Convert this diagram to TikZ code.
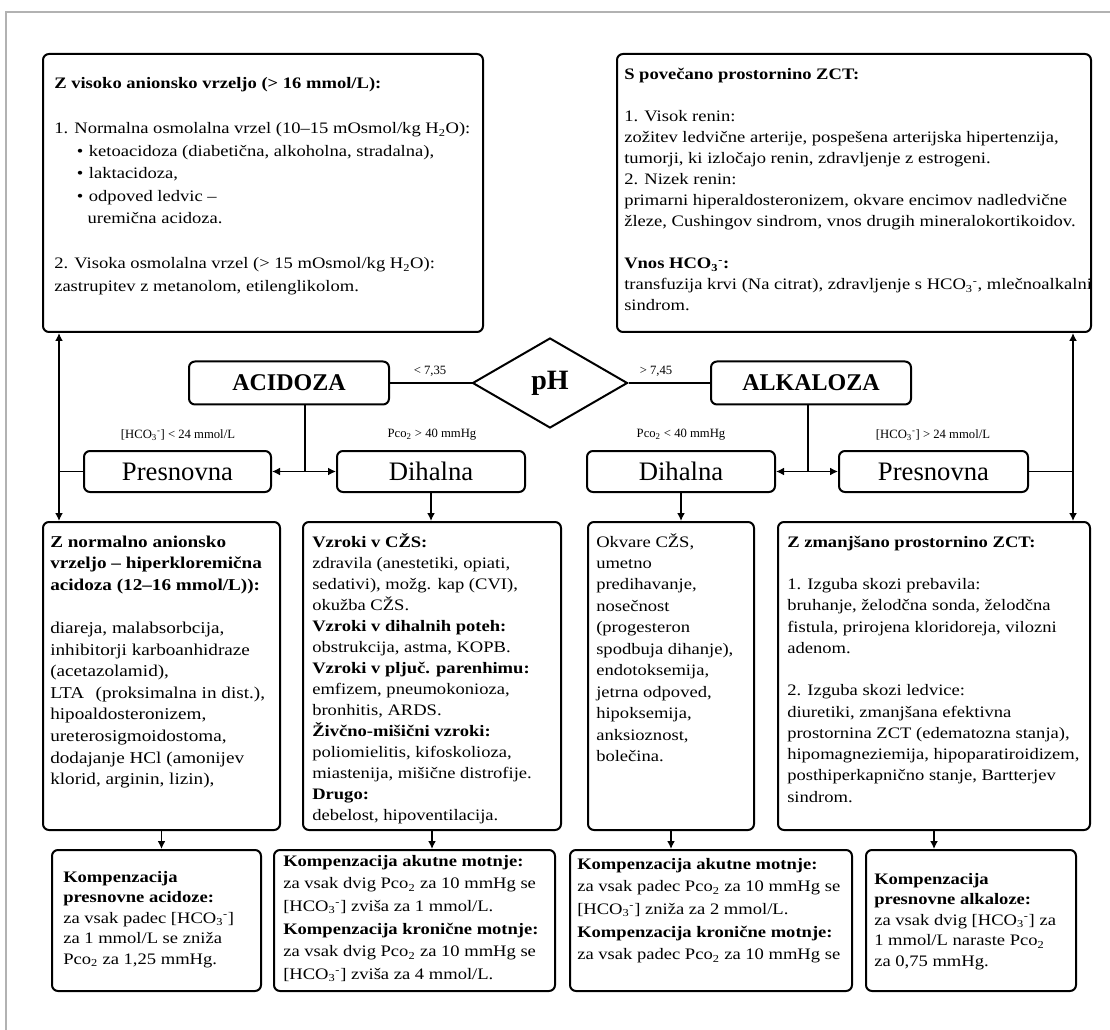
\documentclass[tikz,border=0pt]{standalone}
\usepackage{fontspec}
\setmainfont[FakeStretch=1.16]{Liberation Serif}
\newfontfamily\condfont{Liberation Serif}
\usetikzlibrary{arrows.meta,calc,shapes.geometric}
\newcommand\hco{HCO\textsubscript{3}\textsuperscript{-}}
\newcommand\pco{Pco\textsubscript{2}}
\newcommand\hto{H\textsubscript{2}O}
\newcommand\bodyfont[1]{\fontsize{12pt}{#1}\selectfont}
\begin{document}
\begin{tikzpicture}[x=0.75pt,y=-0.75pt,
  box/.style={draw, line width=1.5pt, rounded corners=4.5pt, inner sep=0pt},
  txt/.style={anchor=base west, inner sep=0pt},
  arr/.style={line width=1.3pt, -{Latex[length=6pt,width=6pt]}},
  con/.style={line width=1.3pt},
  lbl/.style={inner sep=0pt, font=\condfont\fontsize{9.5pt}{10pt}\selectfont},
  bigbox/.style={box, minimum width=150pt, minimum height=32.25pt, font=\condfont\bfseries\fontsize{18pt}{18pt}\selectfont},
  subbox/.style={box, minimum height=30.75pt, font=\condfont\fontsize{20pt}{20pt}\selectfont}
]
\useasboundingbox (0,0) rectangle (1110,1030);
\fill[white] (0,0) rectangle (1110,1030);
\draw[gray!60, line width=0.8pt] (6,1030) -- (6,12) -- (1110,12);

% top boxes
\node[box, minimum width=330pt, minimum height=208.5pt] (tl) at (263,193) {};
\node[box, minimum width=355.5pt, minimum height=208.5pt] (tr) at (854,193) {};

% middle row
\node[bigbox] (acid) at (289,383) {ACIDOZA};
\node[diamond, draw, line width=1.5pt, minimum width=116.25pt, minimum height=67.5pt, inner sep=0pt,
      font=\condfont\bfseries\fontsize{21pt}{21pt}\selectfont] (ph) at (550,383) {pH};
\node[bigbox] (alk) at (811,383) {ALKALOZA};

\node[subbox, minimum width=140.25pt] (pl) at (177.5,471.5) {Presnovna};
\node[subbox, minimum width=141pt] (dl) at (431,471.5) {Dihalna};
\node[subbox, minimum width=141pt] (dr) at (681,471.5) {Dihalna};
\node[subbox, minimum width=141.75pt] (pr) at (933.5,471.5) {Presnovna};

\node[lbl] (l735) at (430,371) {< 7,35};
\node[lbl] (l745) at (656,371) {> 7,45};
\node[lbl] (lhl) at (178,435) {[\hco ] < 24 mmol/L};
\node[lbl] (lpl) at (432,435) {\pco{} > 40 mmHg};
\node[lbl] (lpr) at (681,435) {\pco{} < 40 mmHg};
\node[lbl] (lhr) at (933,435) {[\hco ] > 24 mmol/L};

% cause boxes
\node[box, minimum width=177.75pt, minimum height=231pt] (bl1) at (161.5,676) {};
\node[box, minimum width=193.5pt, minimum height=231pt] (bl2) at (432,676) {};
\node[box, minimum width=124.5pt, minimum height=231pt] (br1) at (671,676) {};
\node[box, minimum width=234pt, minimum height=231pt] (br2) at (934,676) {};

% compensation boxes
\node[box, minimum width=156.75pt, minimum height=105.75pt] (c1) at (156.5,920.5) {};
\node[box, minimum width=210.75pt, minimum height=105.75pt] (c2) at (414.5,920.5) {};
\node[box, minimum width=211.5pt, minimum height=105.75pt] (c3) at (711,920.5) {};
\node[box, minimum width=157.5pt, minimum height=105.75pt] (c4) at (971,920.5) {};

% texts
\node[txt, font=\bodyfont{16.875pt}] (tlt) at ($(tl.north west)+(12,36)$) {\begin{tabular}[t]{@{}l@{}}
\textbf{Z visoko anionsko vrzeljo (> 16 mmol/L):}\\
\\
1. Normalna osmolalna vrzel (10–15 mOsmol/kg \hto):\\
\makebox[26pt][l]{\hspace*{17pt}•}ketoacidoza (diabetična, alkoholna, stradalna),\\
\makebox[26pt][l]{\hspace*{17pt}•}laktacidoza,\\
\makebox[26pt][l]{\hspace*{17pt}•}odpoved ledvic –\\
\hspace*{25pt}uremična acidoza.\\
\\
2. Visoka osmolalna vrzel (> 15 mOsmol/kg \hto):\\
zastrupitev z metanolom, etilenglikolom.
\end{tabular}};

\node[txt, font=\bodyfont{15.75pt}] (trt) at ($(tr.north west)+(8,27)$) {\begin{tabular}[t]{@{}l@{}}
\textbf{S povečano prostornino ZCT:}\\
\\
1. Visok renin:\\
zožitev ledvične arterije, pospešena arterijska hipertenzija,\\
tumorji, ki izločajo renin, zdravljenje z estrogeni.\\
2. Nizek renin:\\
primarni hiperaldosteronizem, okvare encimov nadledvične\\
žleze, Cushingov sindrom, vnos drugih mineralokortikoidov.\\
\\
\textbf{Vnos \hco:}\\
transfuzija krvi (Na citrat), zdravljenje s \hco, mlečnoalkalni\\
sindrom.
\end{tabular}};

\node[txt, font=\fontsize{12.4pt}{16.2pt}\selectfont] (bl1t) at ($(bl1.north west)+(8,26)$) {\begin{tabular}[t]{@{}l@{}}
\textbf{Z normalno anionsko}\\
\textbf{vrzeljo – hiperkloremična}\\
\textbf{acidoza (12–16 mmol/L)):}\\
\\
diareja, malabsorbcija,\\
inhibitorji karboanhidraze\\
(acetazolamid),\\
LTA\hspace{5pt} (proksimalna in dist.),\\
hipoaldosteronizem,\\
ureterosigmoidostoma,\\
dodajanje HCl (amonijev\\
klorid, arginin, lizin),
\end{tabular}};

\node[txt, font=\bodyfont{15.75pt}] (bl2t) at ($(bl2.north west)+(10,26)$) {\begin{tabular}[t]{@{}l@{}}
\textbf{Vzroki v CŽS:}\\
zdravila (anestetiki, opiati,\\
sedativi), možg. kap (CVI),\\
okužba CŽS.\\
\textbf{Vzroki v dihalnih poteh:}\\
obstrukcija, astma, KOPB.\\
\textbf{Vzroki v pljuč. parenhimu:}\\
emfizem, pneumokonioza,\\
bronhitis, ARDS.\\
\textbf{Živčno-mišični vzroki:}\\
poliomielitis, kifoskolioza,\\
miastenija, mišične distrofije.\\
\textbf{Drugo:}\\
debelost, hipoventilacija.
\end{tabular}};

\node[txt, font=\bodyfont{16.1pt}] (br1t) at ($(br1.north west)+(9,26)$) {\begin{tabular}[t]{@{}l@{}}
Okvare CŽS,\\
umetno\\
predihavanje,\\
nosečnost\\
(progesteron\\
spodbuja dihanje),\\
endotoksemija,\\
jetrna odpoved,\\
hipoksemija,\\
anksioznost,\\
bolečina.
\end{tabular}};

\node[txt, font=\bodyfont{15.94pt}] (br2t) at ($(br2.north west)+(10,26)$) {\begin{tabular}[t]{@{}l@{}}
\textbf{Z zmanjšano prostornino ZCT:}\\
\\
1. Izguba skozi prebavila:\\
bruhanje, želodčna sonda, želodčna\\
fistula, prirojena kloridoreja, vilozni\\
adenom.\\
\\
2. Izguba skozi ledvice:\\
diuretiki, zmanjšana efektivna\\
prostornina ZCT (edematozna stanja),\\
hipomagneziemija, hipoparatiroidizem,\\
posthiperkapnično stanje, Bartterjev\\
sindrom.
\end{tabular}};

\node[txt, font=\bodyfont{15.4pt}] (c1t) at ($(c1.north west)+(12,33)$) {\begin{tabular}[t]{@{}l@{}}
\textbf{Kompenzacija}\\
\textbf{presnovne acidoze:}\\
za vsak padec [\hco ]\\
za 1 mmol/L se zniža\\
\pco{} za 1,25 mmHg.
\end{tabular}};

\node[txt, font=\bodyfont{17pt}] (c2t) at ($(c2.north west)+(10,17)$) {\begin{tabular}[t]{@{}l@{}}
\textbf{Kompenzacija akutne motnje:}\\
za vsak dvig \pco{} za 10 mmHg se\\
{[}\hco ] zviša za 1 mmol/L.\\
\textbf{Kompenzacija kronične motnje:}\\
za vsak dvig \pco{} za 10 mmHg se\\
{[}\hco ] zviša za 4 mmol/L.
\end{tabular}};

\node[txt, font=\bodyfont{17pt}] (c3t) at ($(c3.north west)+(8,20)$) {\begin{tabular}[t]{@{}l@{}}
\textbf{Kompenzacija akutne motnje:}\\
za vsak padec \pco{} za 10 mmHg se\\
{[}\hco ] zniža za 2 mmol/L.\\
\textbf{Kompenzacija kronične motnje:}\\
za vsak padec \pco{} za 10 mmHg se
\end{tabular}};

\node[txt, font=\bodyfont{15.4pt}] (c4t) at ($(c4.north west)+(9,35)$) {\begin{tabular}[t]{@{}l@{}}
\textbf{Kompenzacija}\\
\textbf{presnovne alkaloze:}\\
za vsak dvig [\hco ] za\\
1 mmol/L naraste \pco\\
za 0,75 mmHg.
\end{tabular}};

% connectors
\coordinate (jl) at (305,471.5);
\coordinate (jr) at (808,471.5);
\coordinate (vl) at (59,471.5);
\coordinate (vr) at (1073,471.5);
\draw[con] (acid.east) -- (ph.west);
\draw[con] (ph.east) -- (alk.west);
\draw[con] (acid.south -| jl) -- (jl);
\draw[arr] (jl) -- (pl.east);
\draw[arr] (jl) -- (dl.west);
\draw[con] (alk.south -| jr) -- (jr);
\draw[arr] (jr) -- (dr.east);
\draw[arr] (jr) -- (pr.west);
\draw[con] (pl.west) -- (vl);
\draw[arr] (vl) -- (vl |- tl.south);
\draw[arr] (vl) -- (vl |- bl1.north);
\draw[con] (pr.east) -- (vr);
\draw[arr] (vr) -- (vr |- tr.south);
\draw[arr] (vr) -- (vr |- br2.north);
\draw[arr] (dl.south) -- (dl.south |- bl2.north);
\draw[arr] (dr.south) -- (dr.south |- br1.north);
\draw[arr] (bl1.south) -- (bl1.south |- c1.north);
\draw[arr] (bl2.south) -- (bl2.south |- c2.north);
\draw[arr] (br1.south) -- (br1.south |- c3.north);
\draw[arr] (br2.south) -- (br2.south |- c4.north);
\end{tikzpicture}
\end{document}
